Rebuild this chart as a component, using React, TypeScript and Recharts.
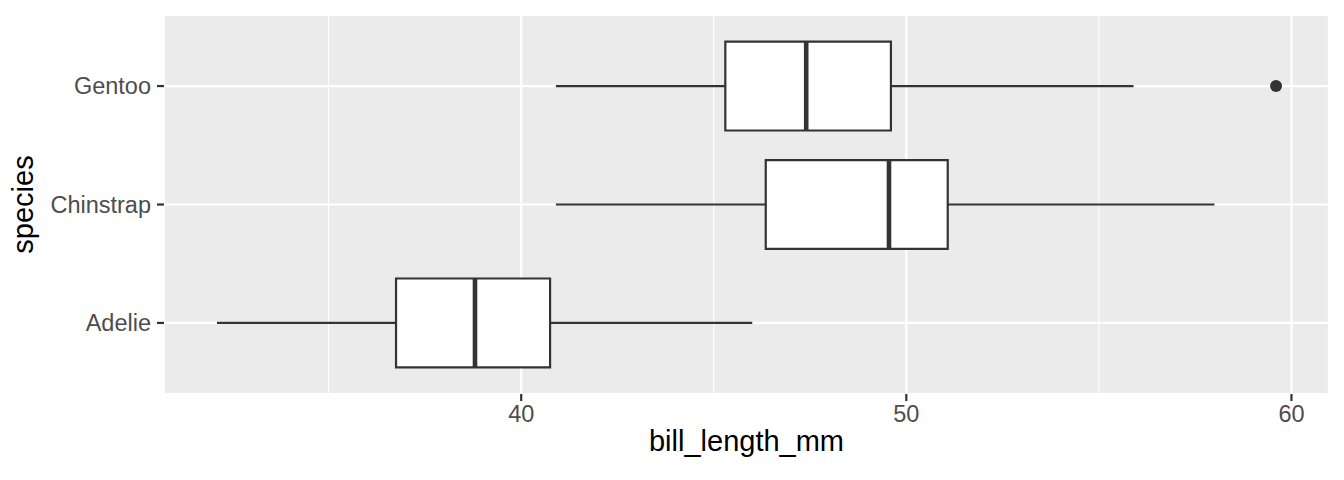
import React from 'react';
import {
  ComposedChart,
  XAxis,
  YAxis,
  CartesianGrid,
  ReferenceArea,
  ReferenceLine,
  Scatter,
  Label,
} from 'recharts';

const species = ['Adelie', 'Chinstrap', 'Gentoo'];
const whiskerLow = [32.1, 40.9, 40.9];
const q1 = [36.75, 46.35, 45.3];
const median = [38.8, 49.55, 47.4];
const q3 = [40.75, 51.075, 49.6];
const whiskerHigh = [46.0, 58.0, 55.9];
const outliers = [{ x: 59.6, y: 3 }];

const xTicks = [40, 50, 60];
const xMinorTicks = [35, 45, 55];
const yTicks = [1, 2, 3];
const xDomain = [30.725, 60.975];
const yDomain = [0.4, 3.6];
const boxHalf = 0.375;

const FONT = '"Liberation Sans", Arial, Helvetica, sans-serif';
const DARK = '#333333';

export default function App() {
  return (
    <div style={{ position: 'absolute', left: 0, top: 0, width: 1344, height: 480, background: '#fff' }}>
      <ComposedChart
        width={1344}
        height={480}
        margin={{ top: 15, right: 15, bottom: 0, left: 0 }}
        style={{ fontFamily: FONT }}
      >
        <CartesianGrid
          fill="#EBEBEB"
          stroke="#FFFFFF"
          strokeWidth={2.2}
          strokeDasharray=""
          zIndex={-100}
        />
        {xMinorTicks.map((v) => (
          <ReferenceLine
            key={'minor' + v}
            x={v}
            stroke="#FFFFFF"
            strokeWidth={1.1}
            zIndex={-90}
          />
        ))}
        <XAxis
          type="number"
          dataKey="x"
          domain={xDomain}
          ticks={xTicks}
          allowDataOverflow
          height={86}
          axisLine={false}
          tickSize={7}
          tickMargin={4}
          tickLine={{ stroke: DARK, strokeWidth: 2.2 }}
          tick={{ fill: '#4D4D4D', fontSize: 23.5, fontFamily: FONT }}
        >
          <Label
            value="bill_length_mm"
            position="insideBottom"
            offset={29}
            fill="#000000"
            fontSize={29}
            fontFamily={FONT}
          />
        </XAxis>
        <YAxis
          type="number"
          dataKey="y"
          domain={yDomain}
          ticks={yTicks}
          allowDataOverflow
          width={164}
          axisLine={false}
          tickSize={7}
          tickMargin={6}
          tickLine={{ stroke: DARK, strokeWidth: 2.2 }}
          tick={{ fill: '#4D4D4D', fontSize: 23.5, fontFamily: FONT }}
          tickFormatter={(v: number) => species[v - 1] ?? ''}
          label={{
            content: (props: any) => {
              const vb = props.viewBox || { x: 0, y: 15, width: 164, height: 379 };
              const cx = vb.x + 33;
              const cy = vb.y + vb.height / 2;
              return (
                <text
                  x={cx}
                  y={cy}
                  transform={`rotate(-90, ${cx}, ${cy})`}
                  textAnchor="middle"
                  fill="#000000"
                  fontSize={29}
                  fontFamily={FONT}
                >
                  species
                </text>
              );
            },
          }}
        />
        {species.map((s, i) => (
          <ReferenceLine
            key={'wl' + s}
            segment={[
              { x: whiskerLow[i], y: i + 1 },
              { x: q1[i], y: i + 1 },
            ]}
            stroke={DARK}
            strokeWidth={2.2}
            zIndex={40}
          />
        ))}
        {species.map((s, i) => (
          <ReferenceLine
            key={'wh' + s}
            segment={[
              { x: q3[i], y: i + 1 },
              { x: whiskerHigh[i], y: i + 1 },
            ]}
            stroke={DARK}
            strokeWidth={2.2}
            zIndex={40}
          />
        ))}
        {species.map((s, i) => (
          <ReferenceArea
            key={'box' + s}
            x1={q1[i]}
            x2={q3[i]}
            y1={i + 1 - boxHalf}
            y2={i + 1 + boxHalf}
            fill="#FFFFFF"
            fillOpacity={1}
            stroke={DARK}
            strokeWidth={2.2}
            ifOverflow="visible"
            zIndex={50}
          />
        ))}
        {species.map((s, i) => (
          <ReferenceLine
            key={'med' + s}
            segment={[
              { x: median[i], y: i + 1 - boxHalf },
              { x: median[i], y: i + 1 + boxHalf },
            ]}
            stroke={DARK}
            strokeWidth={4.6}
            zIndex={60}
          />
        ))}
        <Scatter
          data={outliers}
          dataKey="y"
          isAnimationActive={false}
          fill={DARK}
          zIndex={70}
          shape={(p: any) => <circle cx={p.cx} cy={p.cy} r={6} fill={DARK} />}
        />
      </ComposedChart>
    </div>
  );
}
